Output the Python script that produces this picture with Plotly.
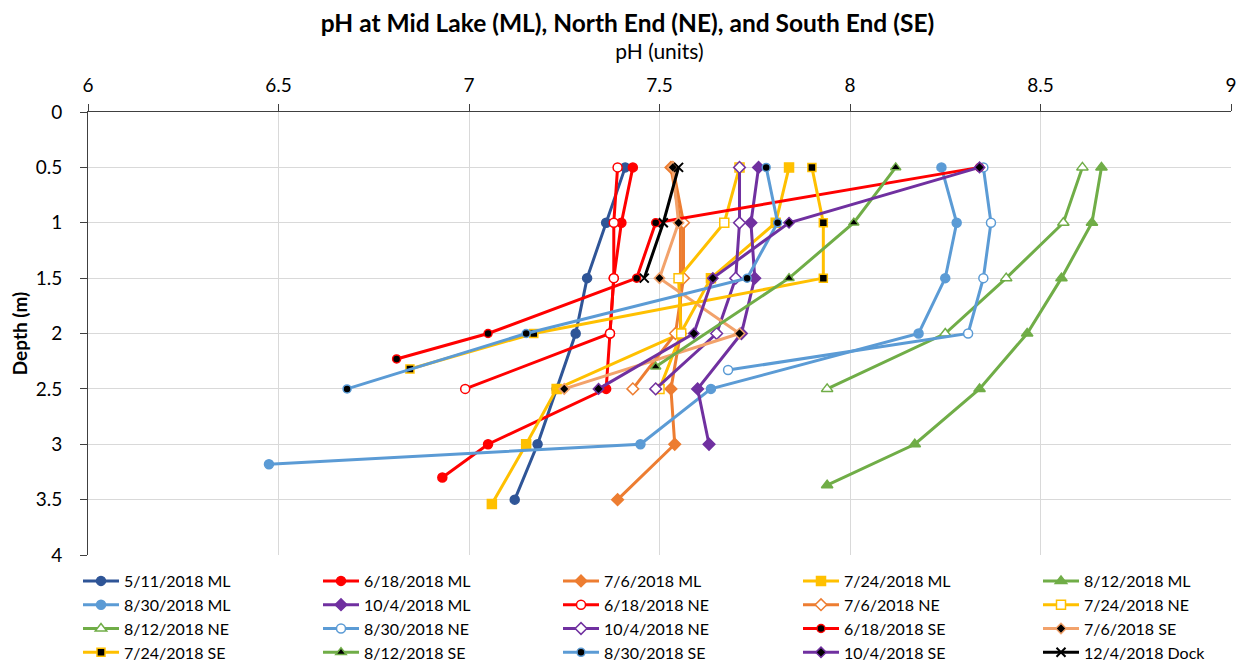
import plotly.graph_objects as go

# ---------------- data ----------------
ml_5_11_d = [0.5, 1, 1.5, 2, 2.5, 3, 3.5]
ml_5_11_ph = [7.41, 7.36, 7.31, 7.28, 7.23, 7.18, 7.12]

ml_6_18_d = [0.5, 1, 1.5, 2, 2.5, 3, 3.3]
ml_6_18_ph = [7.43, 7.40, 7.38, 7.37, 7.36, 7.05, 6.93]

ml_7_6_d = [0.5, 1, 1.5, 2, 2.5, 3, 3.5]
ml_7_6_ph = [7.53, 7.555, 7.555, 7.555, 7.53, 7.54, 7.39]

ml_7_24_d = [0.5, 1, 1.5, 2, 2.5, 3, 3.54]
ml_7_24_ph = [7.84, 7.805, 7.635, 7.555, 7.23, 7.15, 7.06]

ml_8_12_d = [0.5, 1, 1.5, 2, 2.5, 3, 3.37]
ml_8_12_ph = [8.66, 8.635, 8.555, 8.465, 8.34, 8.17, 7.94]

ml_8_30_d = [0.5, 1, 1.5, 2, 2.5, 3, 3.18]
ml_8_30_ph = [8.24, 8.28, 8.25, 8.18, 7.635, 7.45, 6.475]

ml_10_4_d = [0.5, 1, 1.5, 2, 2.5, 3]
ml_10_4_ph = [7.76, 7.74, 7.75, 7.715, 7.60, 7.63]

ne_6_18_d = [0.5, 1, 1.5, 2, 2.5]
ne_6_18_ph = [7.39, 7.38, 7.38, 7.37, 6.99]

ne_7_6_d = [0.5, 1, 1.5, 2, 2.5]
ne_7_6_ph = [7.535, 7.563, 7.563, 7.542, 7.43]

ne_7_24_d = [0.5, 1, 1.5, 2, 2.5]
ne_7_24_ph = [7.71, 7.67, 7.55, 7.557, 7.50]

ne_8_12_d = [0.5, 1, 1.5, 2, 2.5]
ne_8_12_ph = [8.61, 8.56, 8.41, 8.25, 7.94]

ne_8_30_d = [0.5, 1, 1.5, 2, 2.33]
ne_8_30_ph = [8.35, 8.37, 8.35, 8.31, 7.68]

ne_10_4_d = [0.5, 1, 1.5, 2, 2.5]
ne_10_4_ph = [7.71, 7.71, 7.70, 7.65, 7.49]

se_6_18_d = [0.5, 1, 1.5, 2, 2.23]
se_6_18_ph = [8.34, 7.49, 7.44, 7.05, 6.81]

se_7_6_d = [0.5, 1, 1.5, 2, 2.5]
se_7_6_ph = [7.535, 7.55, 7.50, 7.71, 7.25]

se_7_24_d = [0.5, 1, 1.5, 2, 2.32]
se_7_24_ph = [7.90, 7.93, 7.93, 7.17, 6.845]

se_8_12_d = [0.5, 1, 1.5, 2.3]
se_8_12_ph = [8.12, 8.01, 7.84, 7.49]

se_8_30_d = [0.5, 1, 1.5, 2, 2.5]
se_8_30_ph = [7.78, 7.81, 7.73, 7.15, 6.68]

se_10_4_d = [0.5, 1, 1.5, 2, 2.5]
se_10_4_ph = [8.34, 7.84, 7.64, 7.59, 7.34]

dock_12_4_d = [0.5, 1, 1.5]
dock_12_4_ph = [7.55, 7.51, 7.46]

x_ticks = [6, 6.5, 7, 7.5, 8, 8.5, 9]
y_ticks = [0, 0.5, 1, 1.5, 2, 2.5, 3, 3.5, 4]

# ---------------- styles ----------------
C_DB = "#2F5597"
C_RED = "#FF0000"
C_OR = "#ED7D31"
C_OR_L = "#F2A26B"
C_YE = "#FFC000"
C_GR = "#70AD47"
C_LB = "#5B9BD5"
C_PU = "#7030A0"

FONT = "Lato, Liberation Sans, sans-serif"
LW = 3

series = [
    # name, depths, ph, line color, symbol, fill, marker outline, size
    ("5/11/2018 ML", ml_5_11_d, ml_5_11_ph, C_DB, "circle", C_DB, C_DB, 9),
    ("6/18/2018 ML", ml_6_18_d, ml_6_18_ph, C_RED, "circle", C_RED, C_RED, 9),
    ("7/6/2018 ML", ml_7_6_d, ml_7_6_ph, C_OR, "diamond", C_OR, C_OR, 9),
    ("7/24/2018 ML", ml_7_24_d, ml_7_24_ph, C_YE, "square", C_YE, C_YE, 9),
    ("8/12/2018 ML", ml_8_12_d, ml_8_12_ph, C_GR, "triangle-up", C_GR, C_GR, 10),
    ("8/30/2018 ML", ml_8_30_d, ml_8_30_ph, C_LB, "circle", C_LB, C_LB, 9),
    ("10/4/2018 ML", ml_10_4_d, ml_10_4_ph, C_PU, "diamond", C_PU, C_PU, 9),
    ("6/18/2018 NE", ne_6_18_d, ne_6_18_ph, C_RED, "circle", "white", C_RED, 9),
    ("7/6/2018 NE", ne_7_6_d, ne_7_6_ph, C_OR, "diamond", "white", C_OR, 9),
    ("7/24/2018 NE", ne_7_24_d, ne_7_24_ph, C_YE, "square", "white", C_YE, 9),
    ("8/12/2018 NE", ne_8_12_d, ne_8_12_ph, C_GR, "triangle-up", "white", C_GR, 10),
    ("8/30/2018 NE", ne_8_30_d, ne_8_30_ph, C_LB, "circle", "white", C_LB, 9),
    ("10/4/2018 NE", ne_10_4_d, ne_10_4_ph, C_PU, "diamond", "white", C_PU, 9),
    ("6/18/2018 SE", se_6_18_d, se_6_18_ph, C_RED, "circle", "black", C_RED, 8),
    ("7/6/2018 SE", se_7_6_d, se_7_6_ph, C_OR_L, "diamond", "black", C_OR_L, 8),
    ("7/24/2018 SE", se_7_24_d, se_7_24_ph, C_YE, "square", "black", C_YE, 8),
    ("8/12/2018 SE", se_8_12_d, se_8_12_ph, C_GR, "triangle-up", "black", C_GR, 9),
    ("8/30/2018 SE", se_8_30_d, se_8_30_ph, C_LB, "circle", "black", C_LB, 8),
    ("10/4/2018 SE", se_10_4_d, se_10_4_ph, C_PU, "diamond", "black", C_PU, 8),
    ("12/4/2018 Dock", dock_12_4_d, dock_12_4_ph, "black", "x-thin", "black", "black", 9),
]

fig = go.Figure()
for name, d, ph, lc, sym, fill, oc, sz in series:
    fig.add_trace(go.Scatter(
        x=ph, y=d, name=name, mode="lines+markers",
        line=dict(color=lc, width=LW),
        marker=dict(symbol=sym, color=fill, size=sz,
                    line=dict(color=oc, width=2 if sym == "x-thin" else 1.5)),
    ))

# The page body adds an 8px offset; the figure is sized to fill the rest of the window.
W, H = 1239, 659
ML_, MR_, MT_, MB_ = 80, 16, 104, 112
PLOT_W = W - ML_ - MR_
PLOT_H = H - MT_ - MB_

fig.update_layout(
    width=W, height=H,
    paper_bgcolor="white", plot_bgcolor="white",
    margin=dict(l=ML_, r=MR_, t=MT_, b=MB_, autoexpand=False),
    font=dict(family=FONT, color="black"),
    title=dict(text="<b>pH at Mid Lake (ML), North End (NE), and South End (SE)</b>",
               x=0.5, xanchor="center", y=1 - 15.5 / H, yanchor="middle",
               font=dict(size=24.5, family=FONT, color="black")),
    xaxis=dict(side="top", range=[6, 9], tickvals=x_ticks, automargin=False,
               showgrid=True, gridcolor="#D9D9D9", gridwidth=1,
               showline=True, linecolor="#404040", linewidth=1,
               ticks="outside", ticklen=7, tickcolor="#404040",
               ticklabelstandoff=4,
               tickfont=dict(size=19), zeroline=False,
               title=dict(text="pH (units)", font=dict(size=21), standoff=8)),
    yaxis=dict(range=[4, 0], tickvals=y_ticks, automargin=False,
               showgrid=True, gridcolor="#D9D9D9", gridwidth=1,
               showline=True, linecolor="#404040", linewidth=1,
               ticks="outside", ticklen=7, tickcolor="#404040",
               ticklabelstandoff=14,
               tickfont=dict(size=19), zeroline=False,
               title=dict(text="<b>Depth (m)</b>", font=dict(size=19), standoff=3)),
    legend=dict(orientation="h",
                x=-10 / PLOT_W, xanchor="left", y=-9 / PLOT_H, yanchor="top",
                entrywidth=189, entrywidthmode="pixels",
                font=dict(size=16, family=FONT), tracegroupgap=0,
                itemwidth=36, bgcolor="rgba(0,0,0,0)"),
    showlegend=True,
)

fig.write_html("out.html")
